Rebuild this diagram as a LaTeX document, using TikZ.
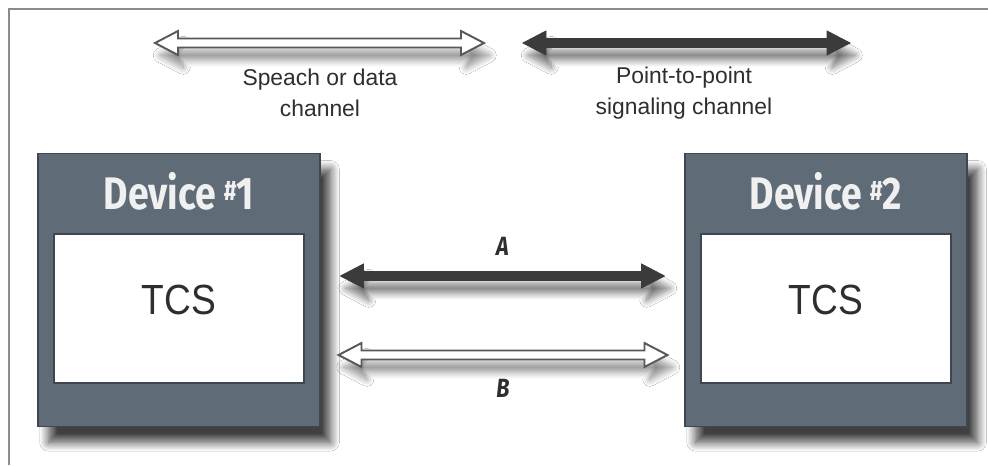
\documentclass[tikz,border=0pt]{standalone}
\usepackage{fontspec}
\setmainfont{Liberation Sans}
\newfontfamily\headfont[FakeStretch=0.82]{Fira Sans}
\newfontfamily\tcsfont[FakeStretch=0.88]{Liberation Sans}
\usetikzlibrary{positioning, calc, shadows.blur}

\definecolor{boxgray}{HTML}{5F6B76}
\definecolor{boxedge}{HTML}{3E4750}
\definecolor{arrowdark}{HTML}{3B3B3B}
\definecolor{textgray}{HTML}{2E2E2E}
\definecolor{framegray}{HTML}{8C8C8C}

% double headed channel arrow as one closed outline (so it can get a shadow)
\newcommand{\channel}[3]{%
  \path[#1] (#2) -- ++(23,12) -- ++(0,-7.5) -- ($(#3)+(-23,4.5)$) -- ++(0,7.5)
    -- (#3) -- ++(-23,-12) -- ++(0,7.5) -- ($(#2)+(23,-4.5)$) -- ++(0,-7.5) -- cycle;}

\begin{document}
\begin{tikzpicture}[x=0.2mm, y=-0.2mm,
  device/.style={draw=boxedge, line width=0.6pt, fill=boxgray,
    minimum width=5.64cm, minimum height=5.46cm,
    blur shadow={shadow xshift=6pt, shadow yshift=-9pt, shadow blur radius=5pt,
      shadow blur steps=12, shadow opacity=75}},
  tcs box/.style={draw=boxedge, line width=1pt, fill=white,
    minimum width=5cm, minimum height=2.98cm, text depth=0.36cm, text=textgray,
    font=\tcsfont\fontsize{24}{28}\selectfont},
  title/.style={text=white!94!black, font=\headfont\bfseries\fontsize{26}{30}\selectfont},
  sig/.style={fill=arrowdark, draw=arrowdark, line width=0.5pt,
    blur shadow={shadow xshift=3pt, shadow yshift=-7pt, shadow blur radius=4pt,
      shadow blur steps=10, shadow opacity=55}},
  speech/.style={fill=white, draw=arrowdark!85, line width=1.1pt,
    blur shadow={shadow xshift=3pt, shadow yshift=-7pt, shadow blur radius=4pt,
      shadow blur steps=10, shadow opacity=45}},
  caption/.style={align=center, text=textgray, font=\fontsize{13}{17.5}\selectfont},
  tag/.style={text=textgray, font=\headfont\bfseries\itshape\fontsize{15}{18}\selectfont}]

\useasboundingbox (0,0) rectangle (988,465);
\fill[white] (0,0) rectangle (988,465);
\draw[framegray, line width=1.2pt] (9,465) -- (9,9) -- (988,9);

% the two devices
\node[device] (dev1) at (179,290) {};
\node[device] (dev2) at (826,290) {};
\node[tcs box, below=1.6cm of dev1.north] (tcs1) {TCS};
\node[tcs box, below=1.6cm of dev2.north] (tcs2) {TCS};
\node[title] (head1) at ([yshift=-0.76cm]dev1.north)
  {Device\,{\raisebox{0.35ex}{\fontsize{16}{16}\selectfont\#}}1};
\node[title] (head2) at ([yshift=-0.76cm]dev2.north)
  {Device\,{\raisebox{0.35ex}{\fontsize{16}{16}\selectfont\#}}2};

% legend
\coordinate (sp1) at (155,43);
\coordinate (sp2) at (484,43);
\coordinate (sg1) at (523,43);
\coordinate (sg2) at (850,43);
\channel{speech}{sp1}{sp2}
\channel{sig}{sg1}{sg2}
\node[caption] (spcap) at (320,93) {Speach or data\\channel};
\node[caption] (sgcap) at (684,93) {Point-to-point\\signaling channel};

% channels between the devices
\coordinate (rowA) at (0,276);
\coordinate (rowB) at (0,355);
\coordinate (a1) at ($(dev1.east |- rowA)+(20,0)$);
\coordinate (a2) at ($(dev2.west |- rowA)+(-20,0)$);
\coordinate (b1) at ($(dev1.east |- rowB)+(18,0)$);
\coordinate (b2) at ($(dev2.west |- rowB)+(-17,0)$);
\channel{sig}{a1}{a2}
\channel{speech}{b1}{b2}
\node[tag] (tagA) at ($(a1)!0.5!(a2)+(0,-30)$) {A};
\node[tag] (tagB) at ($(b1)!0.5!(b2)+(0,33)$) {B};

\end{tikzpicture}
\end{document}
